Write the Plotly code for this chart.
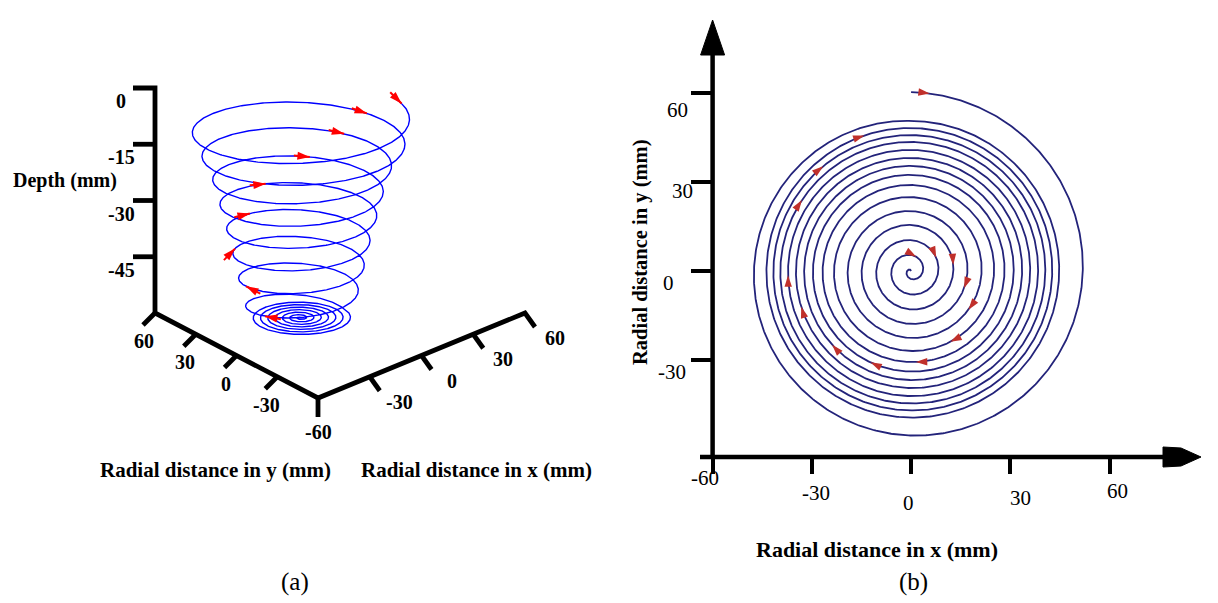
import numpy as np
import plotly.graph_objects as go

W, H = 1218, 603
FONT = "Liberation Serif"

# ---------------- panel (b): tool path seen from above ----------------
spiral_turn = list(range(16))                 # turn counter, centre -> outside
spiral_radius_y_mm = [0, 5.4, 10.4, 15.5, 20.2, 24.9, 29.0, 32.4, 35.4, 38.1, 40.8, 43.5, 45.8, 48.2, 50.6, 60.3]
spiral_radius_x_mm = [0, 4.8, 9.4, 13.9, 18.1, 22.4, 26.0, 29.0, 31.7, 34.2, 36.6, 39.0, 41.1, 43.2, 45.3, 54.1]
spiral_arrow_ring = [1, 2, 3, 4, 5, 6, 7, 8, 9, 10, 11, 12, 13, 14, 15]
spiral_arrow_angle_deg = [20, 62, 82, 108, 124, 151, 177, 204, 227, 252, 268, 303, 320, 341, 6]
b_x_ticks = [-60, -30, 0, 30, 60]
b_x_tick_labels = ["-60", "-30", "0", "30", "60"]
b_y_ticks = [60, 30, 0, -30]
b_y_tick_labels = ["60", "30", "0", "-30"]

# ---------------- panel (a): same path in 3-D ----------------
helix_turn = list(range(16))
helix_radius_mm = [61, 59, 51.3, 46.6, 43, 39.2, 36, 32.8, 28.4, 24.3, 20.3, 16.2, 12.2, 8.1, 4.1, 0]
helix_depth_mm = [0, -7, -12.5, -19.4, -25.8, -32.4, -39, -45.6, -53.5, -53.5, -53.5, -53.5, -53.5, -53.5, -53.5, -53.5]
helix_arrow_turn = [0.03, 0.95, 1.92, 2.86, 3.77, 4.72, 5.63, 6.51, 7.45]
a_depth_ticks = [0, -15, -30, -45]
a_depth_tick_labels = ["0", "-15", "-30", "-45"]
a_y_ticks = [60, 30, 0, -30, -60]
a_y_tick_labels = ["60", "30", "0", "-30", "-60"]
a_x_ticks = [-30, 0, 30, 60]
a_x_tick_labels = ["-30", "0", "30", "60"]

# ---------------- styling / geometry constants ----------------
BLUE_A = "#0000ff"
RED_A = "#ff0000"
NAVY_B = "#23237a"
RED_B = "#c0302b"

# panel (b) axis geometry (pixels)
BX_LEFT, BX_PER_MM, BX_RIGHT = 712.6, 3.308, 1163.0
BY_ZERO, BY_PER_MM, BY_TOP, BY_BOTTOM = 271.0, 2.967, 54.0, 457.0
x2_range = [-60, -60 + (BX_RIGHT - BX_LEFT) / BX_PER_MM]
y2_range = [-(BY_BOTTOM - BY_ZERO) / BY_PER_MM, (BY_ZERO - BY_TOP) / BY_PER_MM]

# panel (a) view of the helix
A_CX, A_TOP_Y = 300.0, 117.0
A_PX_PER_MM, A_TILT, A_DEPTH_PX = 1.8, 0.345, 3.75
A_PHI0 = np.radians(57)


def helix_xy(u):
    u = np.asarray(u, float)
    r = np.interp(u, helix_turn, helix_radius_mm)
    z = np.interp(u, helix_turn, helix_depth_mm)
    phi = A_PHI0 + 2 * np.pi * u
    X = A_CX + A_PX_PER_MM * r * np.sin(phi)
    Y = A_TOP_Y - A_DEPTH_PX * z - A_PX_PER_MM * A_TILT * r * np.cos(phi)
    return X, Y


# oblique frame of panel (a)
AX_O = np.array([318.0, 398.0])
AX_EX = np.array([207.0, -85.0]) / 120
AX_EY = np.array([-163.0, -85.0]) / 120
AX_EZ = np.array([0.0, -225.0]) / 60
LO, HI = min(a_y_ticks), max(a_y_ticks)
ZTOP, ZBOT = max(a_depth_ticks), LO


def axis_pt(x, y, z):
    return AX_O + (x - LO) * AX_EX + (y - LO) * AX_EY + (z - ZBOT) * AX_EZ


def spiral_xy(u):
    u = np.asarray(u, float)
    rx = np.interp(u, spiral_turn, spiral_radius_x_mm)
    ry = np.interp(u, spiral_turn, spiral_radius_y_mm)
    return -rx * np.sin(2 * np.pi * u), ry * np.cos(2 * np.pi * u)


fig = go.Figure()

# ---------- panel (a) ----------
u = np.linspace(0, helix_turn[-1], 6000)
hx, hy = helix_xy(u)
fig.add_trace(go.Scatter(x=hx, y=hy, mode="lines", line=dict(color=BLUE_A, width=1.4),
                         xaxis="x", yaxis="y", hoverinfo="skip"))

# arrows on the helix
tx, ty, mx, my, ma = [], [], [], [], []
for ua in helix_arrow_turn:
    x0, y0 = helix_xy(ua)
    x1, y1 = helix_xy(ua + 0.004)
    d = np.array([x1 - x0, y1 - y0])
    d = d / np.hypot(*d)
    tail = np.array([x0, y0]) - 16 * d
    tx += [tail[0], x0, None]
    ty += [tail[1], y0, None]
    mx.append(x0)
    my.append(y0)
    ma.append(np.degrees(np.arctan2(d[0], -d[1])))
fig.add_trace(go.Scatter(x=tx, y=ty, mode="lines", line=dict(color=RED_A, width=2),
                         xaxis="x", yaxis="y", hoverinfo="skip"))
fig.add_trace(go.Scatter(x=mx, y=my, mode="markers",
                         marker=dict(symbol="arrow", size=13, color=RED_A, angle=ma, line=dict(width=0)),
                         xaxis="x", yaxis="y", hoverinfo="skip"))

# oblique axes of panel (a)
lx, ly = [], []


def seg(points):
    for p in points:
        lx.append(p[0])
        ly.append(p[1])
    lx.append(None)
    ly.append(None)


DEPTH_TICK = np.array([-22.0, 0.0])
Y_TICK = np.array([-12.0, 12.0])
X_TICK = np.array([10.0, 14.0])
CORNER_TICK = np.array([0.0, 19.0])

seg([axis_pt(LO, HI, ZTOP) + DEPTH_TICK, axis_pt(LO, HI, ZTOP), axis_pt(LO, HI, ZBOT),
     axis_pt(LO, LO, ZBOT), axis_pt(HI, LO, ZBOT), axis_pt(HI, LO, ZBOT) + X_TICK])
for z in a_depth_ticks:
    if z != ZTOP:
        p = axis_pt(LO, HI, z)
        seg([p, p + DEPTH_TICK])
for yv in a_y_ticks:
    p = axis_pt(LO, yv, ZBOT)
    seg([p, p + (CORNER_TICK if yv == LO else Y_TICK)])
for xv in a_x_ticks:
    if xv != HI:
        p = axis_pt(xv, LO, ZBOT)
        seg([p, p + X_TICK])
fig.add_trace(go.Scatter(x=lx, y=ly, mode="lines", line=dict(color="black", width=4.8),
                         xaxis="x", yaxis="y", hoverinfo="skip"))

# ---------- panel (b) ----------
u = np.linspace(0, spiral_turn[-1], 8000)
sx, sy = spiral_xy(u)
fig.add_trace(go.Scatter(x=sx, y=sy, mode="lines", line=dict(color=NAVY_B, width=1.8),
                         xaxis="x2", yaxis="y2", hoverinfo="skip"))

bx, by, ba = [], [], []
for ring, ang in zip(spiral_arrow_ring, spiral_arrow_angle_deg):
    ua = ring - ang / 360.0
    x0, y0 = spiral_xy(ua)
    x1, y1 = spiral_xy(ua - 0.003)
    dx = (x1 - x0) * BX_PER_MM
    dy_down = -(y1 - y0) * BY_PER_MM
    bx.append(float(x0))
    by.append(float(y0))
    ba.append(float(np.degrees(np.arctan2(dx, -dy_down))))
fig.add_trace(go.Scatter(x=bx, y=by, mode="markers",
                         marker=dict(symbol="arrow", size=12, color=RED_B, angle=ba, line=dict(width=0)),
                         xaxis="x2", yaxis="y2", hoverinfo="skip"))

# ---------- text ----------
ann = []


def txt(x, y, s, size, bold=False, xref="x", yref="y", angle=0, xshift=0, yshift=0):
    ann.append(dict(x=x, y=y, xref=xref, yref=yref, text=("<b>%s</b>" % s) if bold else s,
                    showarrow=False, font=dict(family=FONT, size=size, color="black"),
                    xanchor="center", yanchor="middle", textangle=angle,
                    xshift=xshift, yshift=yshift))


# panel (a) labels
for z, lab in zip(a_depth_ticks, a_depth_tick_labels):
    p = axis_pt(LO, HI, z)
    txt(121, p[1] + 13, lab, 20, bold=True)
for yv, lab in zip(a_y_ticks, a_y_tick_labels):
    p = axis_pt(LO, yv, ZBOT)
    off = np.array([0, 34]) if yv == LO else np.array([-11, 28])
    txt(p[0] + off[0], p[1] + off[1], lab, 20, bold=True)
for xv, lab in zip(a_x_ticks, a_x_tick_labels):
    p = axis_pt(xv, LO, ZBOT)
    txt(p[0] + 30, p[1] + 25, lab, 20, bold=True)
txt(65, 180, "Depth (mm)", 20, bold=True)
txt(215, 470, "Radial distance in y (mm)", 21, bold=True)
txt(476, 470, "Radial distance in x (mm)", 21, bold=True)
txt(295, 582, "(a)", 25)

# panel (b) labels
b_x_label_dx = [-8, 4, -3, 10, 8]
b_x_label_y = [478, 493, 503, 498, 491]
for v, lab, dx, yy in zip(b_x_ticks, b_x_tick_labels, b_x_label_dx, b_x_label_y):
    txt(v, yy, lab, 21, xref="x2", yref="y", xshift=dx)
b_y_label_x = [677, 682, 668, 672]
b_y_label_dy = [17, 9, 12, 12]
for v, lab, xx, dy in zip(b_y_ticks, b_y_tick_labels, b_y_label_x, b_y_label_dy):
    txt(xx, v, lab, 21, xref="x", yref="y2", yshift=-dy)
txt(877, 549, "Radial distance in x (mm)", 22, bold=True)
txt(640, 252, "Radial distance in y (mm)", 20.5, bold=True, angle=-90)
txt(913, 582, "(b)", 25)

# axis lines and arrow heads of panel (b)
shapes = [
    dict(type="line", xref="x", yref="y", x0=BX_LEFT, x1=BX_LEFT, y0=BY_BOTTOM + 2, y1=BY_TOP,
         line=dict(color="black", width=4.5)),
    dict(type="line", xref="x", yref="y", x0=700, x1=BX_RIGHT + 2, y0=BY_BOTTOM, y1=BY_BOTTOM,
         line=dict(color="black", width=4.5)),
    dict(type="path", xref="x", yref="y",
         path="M %.1f,20 L %.1f,%.1f L %.1f,%.1f Z" % (BX_LEFT, BX_LEFT + 12, BY_TOP + 1, BX_LEFT - 12, BY_TOP + 1),
         fillcolor="black", line=dict(color="black", width=1)),
    dict(type="path", xref="x", yref="y",
         path="M %.1f,447 L %.1f,448 L 1201,%.1f L %.1f,466 L %.1f,467 Z"
              % (BX_RIGHT, BX_RIGHT + 18, BY_BOTTOM, BX_RIGHT + 18, BX_RIGHT),
         fillcolor="black", line=dict(color="black", width=1)),
]

axis_common = dict(showgrid=False, zeroline=False, showline=False, ticks="outside",
                   tickcolor="black", tickwidth=4, showticklabels=False, fixedrange=True)

fig.update_layout(
    width=W, height=H, margin=dict(l=0, r=0, t=0, b=0),
    paper_bgcolor="white", plot_bgcolor="rgba(0,0,0,0)", showlegend=False,
    xaxis=dict(domain=[0, 1], range=[0, W], visible=False, fixedrange=True),
    yaxis=dict(domain=[0, 1], range=[H, 0], visible=False, fixedrange=True),
    xaxis2=dict(domain=[BX_LEFT / W, BX_RIGHT / W], range=x2_range, anchor="y2",
                tickvals=b_x_ticks, ticklen=16, **axis_common),
    yaxis2=dict(domain=[(H - BY_BOTTOM) / H, (H - BY_TOP) / H], range=y2_range, anchor="x2",
                tickvals=b_y_ticks, ticklen=21, **axis_common),
    shapes=shapes, annotations=ann,
)

fig.write_html("out.html", config={"displayModeBar": False},
               post_script="document.body.style.margin='0px';document.body.style.overflow='hidden';")
